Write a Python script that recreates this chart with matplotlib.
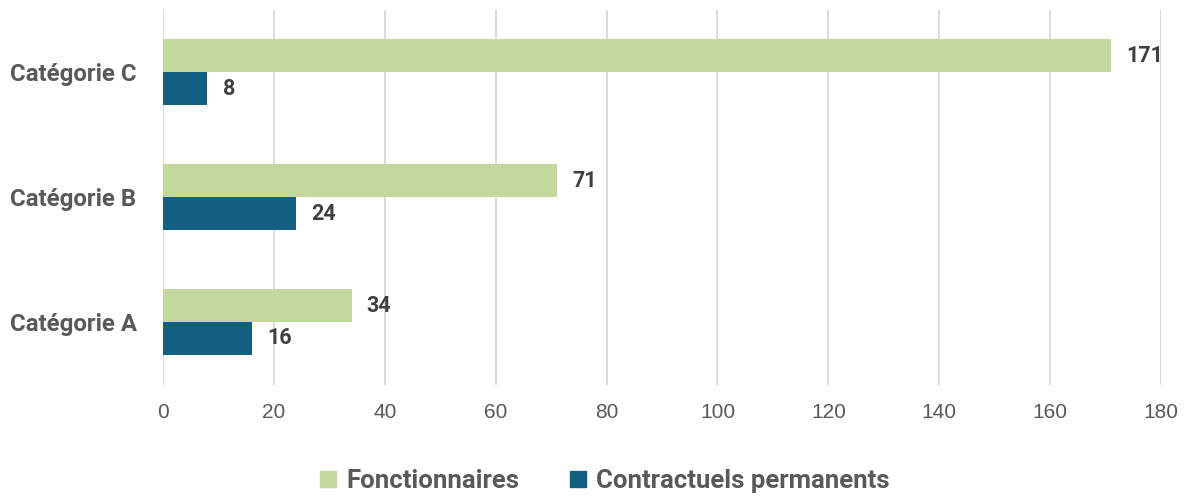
import matplotlib.pyplot as plt
import numpy as np
from matplotlib.patches import Patch

categories = ["Catégorie A", "Catégorie B", "Catégorie C"]
fonctionnaires = [34, 71, 171]
contractuels = [16, 24, 8]
series_names = ["Fonctionnaires", "Contractuels permanents"]
xticks = [0, 20, 40, 60, 80, 100, 120, 140, 160, 180]

green = "#C4D89E"
blue = "#135F82"
txt = "#595959"
lbl = "#404040"

fig = plt.figure(figsize=(11.9, 4.97), dpi=100)
ax = fig.add_axes([163/1190, 1-384.5/497, (1161-163)/1190, 375/497])

y = np.arange(len(categories))
h = 0.264
b1 = ax.barh(y + h/2, fonctionnaires, height=h, color=green, zorder=3)
b2 = ax.barh(y - h/2, contractuels, height=h, color=blue, zorder=3)

for bars, vals in ((b1, fonctionnaires), (b2, contractuels)):
    for bar, v in zip(bars, vals):
        ax.annotate(str(v), (bar.get_width(), bar.get_y() + bar.get_height()/2),
                    xytext=(11, 0), textcoords="offset points", va="center", ha="left",
                    fontsize=15.5, fontweight="bold", color=lbl, family="Roboto")

ax.set_xlim(0, 180)
ax.set_ylim(-0.5, 2.5)
ax.set_xticks(xticks)
ax.set_xticklabels([str(t) for t in xticks], fontsize=15, color=txt, family="Liberation Sans")
ax.set_yticks(y)
ax.set_yticklabels(categories, fontsize=17.3, fontweight="bold", color=txt, family="Roboto")
ax.tick_params(axis="both", length=0)
ax.tick_params(axis="x", pad=13)
ax.tick_params(axis="y", pad=19)
ax.grid(axis="x", color="#D9D9D9", linewidth=1.3, zorder=0)
for s in ax.spines.values():
    s.set_visible(False)

handles = [Patch(color=green), Patch(color=blue)]
fig.legend(handles, series_names, loc="center", bbox_to_anchor=(605/1190, 1-481/497),
           ncol=2, frameon=False, handlelength=0.6, handleheight=0.6, handletextpad=0.4,
           columnspacing=2.0, prop={"family": "Roboto", "weight": "bold", "size": 18.5},
           labelcolor=txt)

fig.savefig("out.png", dpi=100)
